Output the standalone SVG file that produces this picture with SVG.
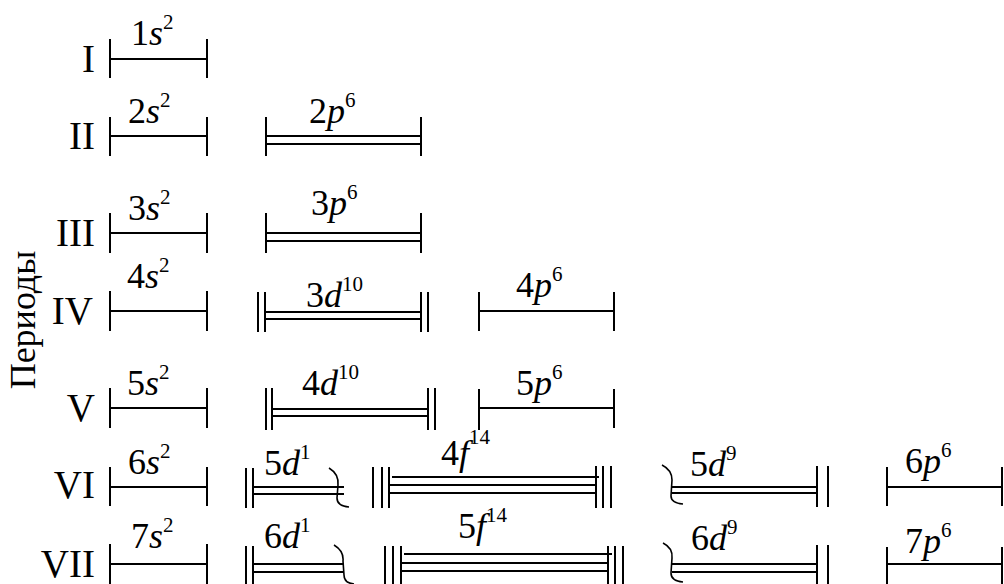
<svg xmlns="http://www.w3.org/2000/svg" width="1004" height="584" viewBox="0 0 1004 584" font-family="'Liberation Serif', 'DejaVu Serif', serif">
<style>
text{font-family:'Liberation Serif','DejaVu Serif',serif;fill:#000}
.rn{font-size:39px;text-anchor:end}
.lb{font-size:36px}
.i{font-style:italic}
.s{font-size:21px}
line,path{stroke:#000;stroke-width:2;fill:none}
path.sq{stroke-width:1.6}
</style>
<rect width="1004" height="584" fill="#fff"/>
<text class="lb" transform="translate(35,320) rotate(-90)" text-anchor="middle" font-size="37">Периоды</text>
<g id="row-labels">
<text class="rn" x="95" y="72">I</text>
<text class="rn" x="95" y="149">II</text>
<text class="rn" x="95" y="246">III</text>
<text class="rn" x="93" y="324">IV</text>
<text class="rn" x="95" y="421">V</text>
<text class="rn" x="95" y="498">VI</text>
<text class="rn" x="95" y="577">VII</text>
</g>
<g id="s-blocks">
<g id="s1"><line x1="110" y1="39" x2="110" y2="78"/><line x1="207" y1="39" x2="207" y2="78"/><line x1="110" y1="59" x2="207" y2="59"/>
<text class="lb" x="131" y="45">1<tspan class="i">s</tspan><tspan class="s" dy="-16">2</tspan></text></g>
<g id="s2"><line x1="110" y1="117" x2="110" y2="156"/><line x1="207" y1="117" x2="207" y2="156"/><line x1="110" y1="136" x2="207" y2="136"/>
<text class="lb" x="128" y="123">2<tspan class="i">s</tspan><tspan class="s" dy="-16">2</tspan></text></g>
<g id="s3"><line x1="110" y1="213" x2="110" y2="253"/><line x1="207" y1="213" x2="207" y2="253"/><line x1="110" y1="233" x2="207" y2="233"/>
<text class="lb" x="128" y="220">3<tspan class="i">s</tspan><tspan class="s" dy="-16">2</tspan></text></g>
<g id="s4"><line x1="110" y1="291" x2="110" y2="331"/><line x1="207" y1="291" x2="207" y2="331"/><line x1="110" y1="311" x2="207" y2="311"/>
<text class="lb" x="127" y="288">4<tspan class="i">s</tspan><tspan class="s" dy="-16">2</tspan></text></g>
<g id="s5"><line x1="110" y1="388" x2="110" y2="428"/><line x1="207" y1="388" x2="207" y2="428"/><line x1="110" y1="408" x2="207" y2="408"/>
<text class="lb" x="127" y="395">5<tspan class="i">s</tspan><tspan class="s" dy="-16">2</tspan></text></g>
<g id="s6"><line x1="110" y1="467" x2="110" y2="506"/><line x1="207" y1="467" x2="207" y2="506"/><line x1="110" y1="487" x2="207" y2="487"/>
<text class="lb" x="128" y="474">6<tspan class="i">s</tspan><tspan class="s" dy="-16">2</tspan></text></g>
<g id="s7"><line x1="110" y1="544" x2="110" y2="584"/><line x1="207" y1="544" x2="207" y2="584"/><line x1="110" y1="564" x2="207" y2="564"/>
<text class="lb" x="131" y="548">7<tspan class="i">s</tspan><tspan class="s" dy="-16">2</tspan></text></g>
</g>
<g id="p-blocks">
<g id="p2"><line x1="266" y1="117" x2="266" y2="156"/><line x1="421" y1="117" x2="421" y2="156"/><line x1="266" y1="136" x2="421" y2="136"/><line x1="266" y1="144" x2="421" y2="144"/>
<text class="lb" x="309" y="123">2<tspan class="i">p</tspan><tspan class="s" dy="-16">6</tspan></text></g>
<g id="p3"><line x1="266" y1="213" x2="266" y2="253"/><line x1="421" y1="213" x2="421" y2="253"/><line x1="266" y1="233" x2="421" y2="233"/><line x1="266" y1="241" x2="421" y2="241"/>
<text class="lb" x="311" y="215">3<tspan class="i">p</tspan><tspan class="s" dy="-16">6</tspan></text></g>
<g id="p4"><line x1="479" y1="292" x2="479" y2="331"/><line x1="614" y1="292" x2="614" y2="331"/><line x1="479" y1="311" x2="614" y2="311"/>
<text class="lb" x="516" y="297">4<tspan class="i">p</tspan><tspan class="s" dy="-16">6</tspan></text></g>
<g id="p5"><line x1="479" y1="389" x2="479" y2="430"/><line x1="614" y1="389" x2="614" y2="428"/><line x1="479" y1="408" x2="614" y2="408"/>
<text class="lb" x="516" y="395">5<tspan class="i">p</tspan><tspan class="s" dy="-16">6</tspan></text></g>
<g id="p6"><line x1="887" y1="467" x2="887" y2="506"/><line x1="1002" y1="467" x2="1002" y2="506"/><line x1="887" y1="487" x2="1002" y2="487"/>
<text class="lb" x="905" y="473">6<tspan class="i">p</tspan><tspan class="s" dy="-16">6</tspan></text></g>
<g id="p7"><line x1="887" y1="547" x2="887" y2="584"/><line x1="1002" y1="547" x2="1002" y2="584"/><line x1="887" y1="564" x2="1002" y2="564"/>
<text class="lb" x="905" y="553">7<tspan class="i">p</tspan><tspan class="s" dy="-16">6</tspan></text></g>
</g>
<g id="d-blocks">
<g id="d3"><line x1="258" y1="292" x2="258" y2="332"/><line x1="265" y1="292" x2="265" y2="332"/><line x1="421" y1="292" x2="421" y2="332"/><line x1="428" y1="292" x2="428" y2="332"/>
<line x1="265" y1="312" x2="421" y2="312" stroke-width="3"/><line x1="265" y1="319" x2="421" y2="319"/>
<text class="lb" x="306" y="307">3<tspan class="i">d</tspan><tspan class="s" dy="-16">10</tspan></text></g>
<g id="d4"><line x1="266" y1="388" x2="266" y2="430"/><line x1="272" y1="388" x2="272" y2="430"/><line x1="428" y1="388" x2="428" y2="430"/><line x1="435" y1="388" x2="435" y2="430"/>
<line x1="272" y1="409" x2="428" y2="409"/><line x1="272" y1="416" x2="428" y2="416"/>
<text class="lb" x="302" y="395">4<tspan class="i">d</tspan><tspan class="s" dy="-16">10</tspan></text></g>
<g id="d5a"><line x1="246" y1="468" x2="246" y2="508"/><line x1="253" y1="468" x2="253" y2="508"/>
<line x1="253" y1="487" x2="344" y2="487"/><line x1="253" y1="494" x2="344" y2="494"/>
<path class="sq" d="M329,468 Q339,474 338,485 L337,498 Q337,506 349,507"/>
<text class="lb" x="264" y="475">5<tspan class="i">d</tspan><tspan class="s" dy="-16">1</tspan></text></g>
<g id="d6a"><line x1="246" y1="546" x2="246" y2="584"/><line x1="253" y1="546" x2="253" y2="584"/>
<line x1="253" y1="564" x2="343" y2="564"/><line x1="253" y1="572" x2="343" y2="572"/>
<path class="sq" d="M334,545 Q344,551 343,561 L344,575 Q344,583 354,584"/>
<text class="lb" x="264" y="548">6<tspan class="i">d</tspan><tspan class="s" dy="-16">1</tspan></text></g>
<g id="d5b"><path class="sq" d="M662,465 Q672,470 672,480 L671,496 Q671,503 683,504"/>
<line x1="672" y1="487" x2="817" y2="487"/><line x1="672" y1="493" x2="817" y2="493"/>
<line x1="817" y1="466" x2="817" y2="507"/><line x1="828" y1="466" x2="828" y2="507"/>
<text class="lb" x="690" y="476">5<tspan class="i">d</tspan><tspan class="s" dy="-16">9</tspan></text></g>
<g id="d6b"><path class="sq" d="M663,543 Q673,548 672,558 L671,573 Q671,581 683,582"/>
<line x1="672" y1="564" x2="817" y2="564"/><line x1="672" y1="572" x2="817" y2="572"/>
<line x1="817" y1="545" x2="817" y2="584"/><line x1="828" y1="545" x2="828" y2="584"/>
<text class="lb" x="691" y="550">6<tspan class="i">d</tspan><tspan class="s" dy="-16">9</tspan></text></g>
</g>
<g id="f-blocks">
<g id="f4"><line x1="373" y1="467" x2="373" y2="508"/><line x1="382" y1="467" x2="382" y2="508"/><line x1="389" y1="467" x2="389" y2="508"/>
<line x1="392" y1="477" x2="599" y2="477"/><line x1="389" y1="485" x2="597" y2="485"/><line x1="389" y1="493" x2="597" y2="493"/>
<line x1="596" y1="466" x2="596" y2="508"/><line x1="603" y1="466" x2="603" y2="508"/><line x1="611" y1="466" x2="611" y2="508"/>
<text class="lb" x="441" y="465">4<tspan class="i">f</tspan><tspan class="s" dy="-21">14</tspan></text></g>
<g id="f5"><line x1="385" y1="546" x2="385" y2="584"/><line x1="393" y1="546" x2="393" y2="584"/><line x1="401" y1="546" x2="401" y2="584"/>
<line x1="404" y1="554" x2="612" y2="554"/><line x1="401" y1="563" x2="607" y2="563"/><line x1="401" y1="571" x2="607" y2="571"/>
<line x1="608" y1="546" x2="608" y2="584"/><line x1="615" y1="546" x2="615" y2="584"/><line x1="623" y1="546" x2="623" y2="584"/>
<text class="lb" x="458" y="538">5<tspan class="i">f</tspan><tspan class="s" dy="-16">14</tspan></text></g>
</g>
<g id="connectors"></g>
</svg>
